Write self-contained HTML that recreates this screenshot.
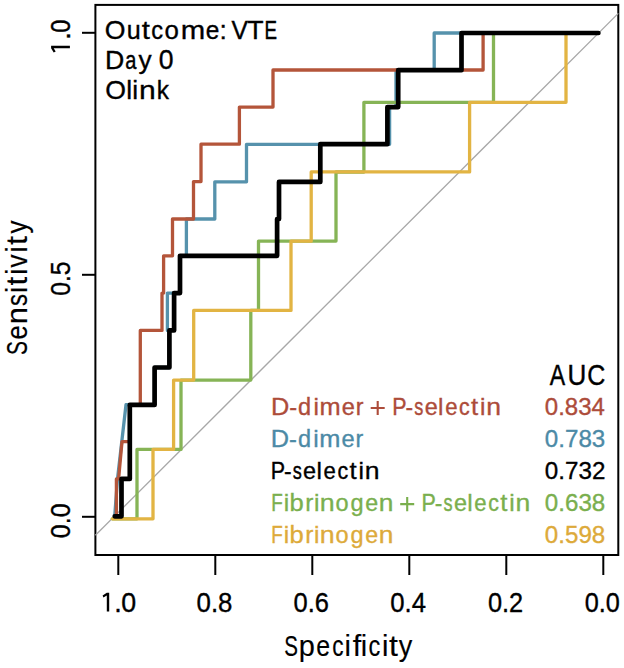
<!DOCTYPE html>
<html><head><meta charset="utf-8"><style>
html,body{margin:0;padding:0;background:#fff;width:624px;height:668px;overflow:hidden}
svg{display:block}
text{font-family:"Liberation Sans",sans-serif}
</style></head><body>
<svg width="624" height="668" viewBox="0 0 624 668" font-family="Liberation Sans, sans-serif">
<rect width="624" height="668" fill="#fff"/>
<g stroke="#000" stroke-width="2" fill="none">
<rect x="95.4" y="4.9" width="522.9" height="550.1"/>
<line x1="82" y1="32.8" x2="95.4" y2="32.8"/><line x1="82" y1="274.8" x2="95.4" y2="274.8"/><line x1="82" y1="516.8" x2="95.4" y2="516.8"/>
<line x1="118.3" y1="555" x2="118.3" y2="575"/><line x1="215.3" y1="555" x2="215.3" y2="575"/><line x1="312.3" y1="555" x2="312.3" y2="575"/><line x1="409.3" y1="555" x2="409.3" y2="575"/><line x1="506.3" y1="555" x2="506.3" y2="575"/><line x1="603.3" y1="555" x2="603.3" y2="575"/>
</g>
<line x1="95.4" y1="535.3" x2="618.3" y2="13.4" stroke="#a8a8a8" stroke-width="1.3"/>
<g fill="none" stroke-linejoin="round" stroke-linecap="round">
<path d="M114.7,516.3 L117.5,479.0 L126.0,404.7 L154.6,404.7 L154.6,367.5 L169.4,367.5 L169.4,330.4 L167.4,330.4 L167.4,293.1 L180.0,293.1 L180.0,255.8 L186.4,255.8 L186.4,219.0 L214.8,219.0 L214.8,181.8 L246.5,181.8 L246.5,144.3 L389.6,144.3 L389.6,107.1 L396.0,107.1 L396.0,70.0 L434.2,70.0 L434.2,33.0 L598.4,33.0" stroke="#5692AC" stroke-width="3.3"/>
<path d="M114.7,516.3 L116.4,516.3 L116.4,478.9 L118.6,478.9 L122.0,441.6 L129.8,441.6 L129.8,404.7 L140.3,404.7 L140.3,330.4 L162.0,330.4 L162.0,293.1 L163.6,293.1 L163.6,255.8 L172.5,255.8 L172.5,219.0 L193.5,219.0 L193.5,181.6 L201.0,181.6 L201.0,144.2 L239.4,144.2 L239.4,107.1 L273.0,107.1 L273.0,70.0 L483.1,70.0 L483.1,33.0 L598.4,33.0" stroke="#B4553A" stroke-width="3.3"/>
<path d="M112.3,518.8 L137.0,518.8 L137.0,449.4 L181.0,449.4 L181.0,380.1 L250.8,380.1 L250.8,310.4 L258.5,310.4 L258.5,241.1 L336.0,241.1 L336.0,172.0 L363.9,172.0 L363.9,102.3 L493.5,102.3 L493.5,33.0 L598.4,33.0" stroke="#86B456" stroke-width="3.3"/>
<path d="M112.3,518.8 L153.0,518.8 L153.0,449.4 L173.6,449.4 L173.6,380.1 L193.7,380.1 L193.7,310.4 L291.0,310.4 L291.0,241.2 L311.2,241.2 L311.2,171.9 L469.6,171.9 L469.6,102.3 L566.0,102.3 L566.0,33.0 L598.4,33.0" stroke="#E2B443" stroke-width="3.3"/>
<path d="M114.7,516.3 L121.5,516.3 L121.5,478.9 L129.8,478.9 L129.8,404.9 L154.6,404.9 L154.6,367.5 L169.4,367.5 L169.4,330.4 L174.1,330.4 L174.1,293.1 L180.0,293.1 L180.0,255.8 L277.1,255.8 L277.1,219.1 L279.0,219.1 L279.0,181.9 L320.3,181.9 L320.3,144.2 L387.4,144.2 L387.4,107.1 L398.2,107.1 L398.2,70.2 L461.5,70.2 L461.5,33.0 L598.4,33.0" stroke="#000" stroke-width="4.7"/>
</g>
<text transform="translate(104.85,39.30) scale(1.006,1)" font-size="26.5" fill="#000" stroke="#000" stroke-width="0.35">O</text>
<text transform="translate(126.86,39.30) scale(0.950,1)" font-size="26.5" fill="#000" stroke="#000" stroke-width="0.37">u</text>
<text transform="translate(141.76,39.30) scale(1.106,1)" font-size="26.5" fill="#000" stroke="#000" stroke-width="0.32">t</text>
<text transform="translate(151.31,39.30) scale(0.891,1)" font-size="26.5" fill="#000" stroke="#000" stroke-width="0.39">c</text>
<text transform="translate(164.41,39.30) scale(0.975,1)" font-size="26.5" fill="#000" stroke="#000" stroke-width="0.36">o</text>
<text transform="translate(180.76,39.30) scale(1.109,1)" font-size="26.5" fill="#000" stroke="#000" stroke-width="0.32">m</text>
<text transform="translate(205.67,39.30) scale(0.923,1)" font-size="26.5" fill="#000" stroke="#000" stroke-width="0.38">e</text>
<text transform="translate(219.42,39.30) scale(1.000,1)" font-size="26.5" fill="#000" stroke="#000" stroke-width="0.35">:</text>
<text transform="translate(231.38,39.30) scale(0.930,1)" font-size="26.5" fill="#000" stroke="#000" stroke-width="0.38">V</text>
<text transform="translate(247.31,39.30) scale(1.007,1)" font-size="26.5" fill="#000" stroke="#000" stroke-width="0.35">T</text>
<text transform="translate(264.46,39.30) scale(0.710,1)" font-size="26.5" fill="#000" stroke="#000" stroke-width="0.49">E</text>
<text transform="translate(105.11,68.90) scale(1.007,1)" font-size="26.5" fill="#000" stroke="#000" stroke-width="0.35">D</text>
<text transform="translate(125.26,68.90) scale(0.756,1)" font-size="26.5" fill="#000" stroke="#000" stroke-width="0.46">a</text>
<text transform="translate(138.52,68.90) scale(0.991,1)" font-size="26.5" fill="#000" stroke="#000" stroke-width="0.35">y</text>
<text transform="translate(158.86,69.10) scale(0.966,1)" font-size="27.5" fill="#000" stroke="#000" stroke-width="0.36">0</text>
<text transform="translate(105.15,98.70) scale(1.006,1)" font-size="26.5" fill="#000" stroke="#000" stroke-width="0.35">O</text>
<text transform="translate(126.16,98.70) scale(1.000,1)" font-size="26.5" fill="#000" stroke="#000" stroke-width="0.35">l</text>
<text transform="translate(132.36,98.70) scale(1.000,1)" font-size="26.5" fill="#000" stroke="#000" stroke-width="0.35">i</text>
<text transform="translate(138.91,98.70) scale(1.137,1)" font-size="26.5" fill="#000" stroke="#000" stroke-width="0.31">n</text>
<text transform="translate(156.66,98.70) scale(0.922,1)" font-size="26.5" fill="#000" stroke="#000" stroke-width="0.38">k</text>
<path d="M370.70,406.95h14.00v2.10h-14.00z M376.65,400.90h2.10v14.20h-2.10z" fill="#AD4C3A"/>
<path d="M400.20,503.10h14.00v2.10h-14.00z M406.15,497.05h2.10v14.20h-2.10z" fill="#7AAF4E"/>
<text transform="translate(271.02,414.50) scale(1.034,1)" font-size="24.5" fill="#AD4C3A" stroke="#AD4C3A" stroke-width="0.34">D</text>
<text transform="translate(289.26,414.50) scale(0.966,1)" font-size="24.5" fill="#AD4C3A" stroke="#AD4C3A" stroke-width="0.36">-</text>
<text transform="translate(298.11,414.50) scale(0.961,1)" font-size="24.5" fill="#AD4C3A" stroke="#AD4C3A" stroke-width="0.36">d</text>
<text transform="translate(313.53,414.50) scale(1.000,1)" font-size="24.5" fill="#AD4C3A" stroke="#AD4C3A" stroke-width="0.35">i</text>
<text transform="translate(319.42,414.50) scale(1.036,1)" font-size="24.5" fill="#AD4C3A" stroke="#AD4C3A" stroke-width="0.34">m</text>
<text transform="translate(341.71,414.50) scale(0.964,1)" font-size="24.5" fill="#AD4C3A" stroke="#AD4C3A" stroke-width="0.36">e</text>
<text transform="translate(355.67,414.50) scale(0.947,1)" font-size="24.5" fill="#AD4C3A" stroke="#AD4C3A" stroke-width="0.37">r</text>
<text transform="translate(392.34,414.50) scale(0.875,1)" font-size="24.5" fill="#AD4C3A" stroke="#AD4C3A" stroke-width="0.40">P</text>
<text transform="translate(405.49,414.50) scale(0.933,1)" font-size="24.5" fill="#AD4C3A" stroke="#AD4C3A" stroke-width="0.38">-</text>
<text transform="translate(414.29,414.50) scale(0.740,1)" font-size="24.5" fill="#AD4C3A" stroke="#AD4C3A" stroke-width="0.47">s</text>
<text transform="translate(424.72,414.50) scale(0.955,1)" font-size="24.5" fill="#AD4C3A" stroke="#AD4C3A" stroke-width="0.37">e</text>
<text transform="translate(437.98,414.50) scale(1.000,1)" font-size="24.5" fill="#AD4C3A" stroke="#AD4C3A" stroke-width="0.35">l</text>
<text transform="translate(445.17,414.50) scale(0.903,1)" font-size="24.5" fill="#AD4C3A" stroke="#AD4C3A" stroke-width="0.39">e</text>
<text transform="translate(459.01,414.50) scale(0.869,1)" font-size="24.5" fill="#AD4C3A" stroke="#AD4C3A" stroke-width="0.40">c</text>
<text transform="translate(471.11,414.50) scale(1.052,1)" font-size="24.5" fill="#AD4C3A" stroke="#AD4C3A" stroke-width="0.33">t</text>
<text transform="translate(480.03,414.50) scale(1.000,1)" font-size="24.5" fill="#AD4C3A" stroke="#AD4C3A" stroke-width="0.35">i</text>
<text transform="translate(486.25,414.50) scale(1.085,1)" font-size="24.5" fill="#AD4C3A" stroke="#AD4C3A" stroke-width="0.32">n</text>
<text x="544.86" y="414.50" font-size="24.5" textLength="60.04" lengthAdjust="spacingAndGlyphs" fill="#AD4C3A" stroke="#AD4C3A" stroke-width="0.35">0.834</text>
<text transform="translate(270.82,446.55) scale(1.034,1)" font-size="24.5" fill="#4C8AA6" stroke="#4C8AA6" stroke-width="0.34">D</text>
<text transform="translate(289.06,446.55) scale(0.966,1)" font-size="24.5" fill="#4C8AA6" stroke="#4C8AA6" stroke-width="0.36">-</text>
<text transform="translate(297.91,446.55) scale(0.961,1)" font-size="24.5" fill="#4C8AA6" stroke="#4C8AA6" stroke-width="0.36">d</text>
<text transform="translate(313.33,446.55) scale(1.000,1)" font-size="24.5" fill="#4C8AA6" stroke="#4C8AA6" stroke-width="0.35">i</text>
<text transform="translate(319.22,446.55) scale(1.036,1)" font-size="24.5" fill="#4C8AA6" stroke="#4C8AA6" stroke-width="0.34">m</text>
<text transform="translate(341.51,446.55) scale(0.964,1)" font-size="24.5" fill="#4C8AA6" stroke="#4C8AA6" stroke-width="0.36">e</text>
<text transform="translate(355.47,446.55) scale(0.947,1)" font-size="24.5" fill="#4C8AA6" stroke="#4C8AA6" stroke-width="0.37">r</text>
<text x="544.86" y="446.55" font-size="24.5" textLength="60.41" lengthAdjust="spacingAndGlyphs" fill="#4C8AA6" stroke="#4C8AA6" stroke-width="0.35">0.783</text>
<text transform="translate(270.74,478.60) scale(0.875,1)" font-size="24.5" fill="#000" stroke="#000" stroke-width="0.40">P</text>
<text transform="translate(283.89,478.60) scale(0.933,1)" font-size="24.5" fill="#000" stroke="#000" stroke-width="0.38">-</text>
<text transform="translate(292.69,478.60) scale(0.740,1)" font-size="24.5" fill="#000" stroke="#000" stroke-width="0.47">s</text>
<text transform="translate(303.12,478.60) scale(0.955,1)" font-size="24.5" fill="#000" stroke="#000" stroke-width="0.37">e</text>
<text transform="translate(316.38,478.60) scale(1.000,1)" font-size="24.5" fill="#000" stroke="#000" stroke-width="0.35">l</text>
<text transform="translate(323.57,478.60) scale(0.903,1)" font-size="24.5" fill="#000" stroke="#000" stroke-width="0.39">e</text>
<text transform="translate(337.41,478.60) scale(0.869,1)" font-size="24.5" fill="#000" stroke="#000" stroke-width="0.40">c</text>
<text transform="translate(349.51,478.60) scale(1.052,1)" font-size="24.5" fill="#000" stroke="#000" stroke-width="0.33">t</text>
<text transform="translate(358.43,478.60) scale(1.000,1)" font-size="24.5" fill="#000" stroke="#000" stroke-width="0.35">i</text>
<text transform="translate(364.65,478.60) scale(1.085,1)" font-size="24.5" fill="#000" stroke="#000" stroke-width="0.32">n</text>
<text x="544.86" y="478.60" font-size="24.5" textLength="60.56" lengthAdjust="spacingAndGlyphs" fill="#000" stroke="#000" stroke-width="0.35">0.732</text>
<text transform="translate(271.16,510.65) scale(0.768,1)" font-size="24.5" fill="#7AAF4E" stroke="#7AAF4E" stroke-width="0.46">F</text>
<text transform="translate(283.78,510.65) scale(1.000,1)" font-size="24.5" fill="#7AAF4E" stroke="#7AAF4E" stroke-width="0.35">i</text>
<text transform="translate(289.44,510.65) scale(1.045,1)" font-size="24.5" fill="#7AAF4E" stroke="#7AAF4E" stroke-width="0.33">b</text>
<text transform="translate(305.19,510.65) scale(0.996,1)" font-size="24.5" fill="#7AAF4E" stroke="#7AAF4E" stroke-width="0.35">r</text>
<text transform="translate(313.88,510.65) scale(1.000,1)" font-size="24.5" fill="#7AAF4E" stroke="#7AAF4E" stroke-width="0.35">i</text>
<text transform="translate(319.73,510.65) scale(1.095,1)" font-size="24.5" fill="#7AAF4E" stroke="#7AAF4E" stroke-width="0.32">n</text>
<text transform="translate(335.61,510.65) scale(0.960,1)" font-size="24.5" fill="#7AAF4E" stroke="#7AAF4E" stroke-width="0.36">o</text>
<text transform="translate(350.61,510.65) scale(0.961,1)" font-size="24.5" fill="#7AAF4E" stroke="#7AAF4E" stroke-width="0.36">g</text>
<text transform="translate(365.13,510.65) scale(0.947,1)" font-size="24.5" fill="#7AAF4E" stroke="#7AAF4E" stroke-width="0.37">e</text>
<text transform="translate(378.76,510.65) scale(1.076,1)" font-size="24.5" fill="#7AAF4E" stroke="#7AAF4E" stroke-width="0.33">n</text>
<text transform="translate(421.54,510.65) scale(0.875,1)" font-size="24.5" fill="#7AAF4E" stroke="#7AAF4E" stroke-width="0.40">P</text>
<text transform="translate(434.69,510.65) scale(0.933,1)" font-size="24.5" fill="#7AAF4E" stroke="#7AAF4E" stroke-width="0.38">-</text>
<text transform="translate(443.49,510.65) scale(0.740,1)" font-size="24.5" fill="#7AAF4E" stroke="#7AAF4E" stroke-width="0.47">s</text>
<text transform="translate(453.92,510.65) scale(0.955,1)" font-size="24.5" fill="#7AAF4E" stroke="#7AAF4E" stroke-width="0.37">e</text>
<text transform="translate(467.18,510.65) scale(1.000,1)" font-size="24.5" fill="#7AAF4E" stroke="#7AAF4E" stroke-width="0.35">l</text>
<text transform="translate(474.37,510.65) scale(0.903,1)" font-size="24.5" fill="#7AAF4E" stroke="#7AAF4E" stroke-width="0.39">e</text>
<text transform="translate(488.21,510.65) scale(0.869,1)" font-size="24.5" fill="#7AAF4E" stroke="#7AAF4E" stroke-width="0.40">c</text>
<text transform="translate(500.31,510.65) scale(1.052,1)" font-size="24.5" fill="#7AAF4E" stroke="#7AAF4E" stroke-width="0.33">t</text>
<text transform="translate(509.23,510.65) scale(1.000,1)" font-size="24.5" fill="#7AAF4E" stroke="#7AAF4E" stroke-width="0.35">i</text>
<text transform="translate(515.45,510.65) scale(1.085,1)" font-size="24.5" fill="#7AAF4E" stroke="#7AAF4E" stroke-width="0.32">n</text>
<text x="544.86" y="510.65" font-size="24.5" textLength="60.39" lengthAdjust="spacingAndGlyphs" fill="#7AAF4E" stroke="#7AAF4E" stroke-width="0.35">0.638</text>
<text transform="translate(271.16,542.70) scale(0.768,1)" font-size="24.5" fill="#DDAA3A" stroke="#DDAA3A" stroke-width="0.46">F</text>
<text transform="translate(283.78,542.70) scale(1.000,1)" font-size="24.5" fill="#DDAA3A" stroke="#DDAA3A" stroke-width="0.35">i</text>
<text transform="translate(289.44,542.70) scale(1.045,1)" font-size="24.5" fill="#DDAA3A" stroke="#DDAA3A" stroke-width="0.33">b</text>
<text transform="translate(305.19,542.70) scale(0.996,1)" font-size="24.5" fill="#DDAA3A" stroke="#DDAA3A" stroke-width="0.35">r</text>
<text transform="translate(313.88,542.70) scale(1.000,1)" font-size="24.5" fill="#DDAA3A" stroke="#DDAA3A" stroke-width="0.35">i</text>
<text transform="translate(319.73,542.70) scale(1.095,1)" font-size="24.5" fill="#DDAA3A" stroke="#DDAA3A" stroke-width="0.32">n</text>
<text transform="translate(335.61,542.70) scale(0.960,1)" font-size="24.5" fill="#DDAA3A" stroke="#DDAA3A" stroke-width="0.36">o</text>
<text transform="translate(350.61,542.70) scale(0.961,1)" font-size="24.5" fill="#DDAA3A" stroke="#DDAA3A" stroke-width="0.36">g</text>
<text transform="translate(365.13,542.70) scale(0.947,1)" font-size="24.5" fill="#DDAA3A" stroke="#DDAA3A" stroke-width="0.37">e</text>
<text transform="translate(378.76,542.70) scale(1.076,1)" font-size="24.5" fill="#DDAA3A" stroke="#DDAA3A" stroke-width="0.33">n</text>
<text x="544.86" y="542.70" font-size="24.5" textLength="60.39" lengthAdjust="spacingAndGlyphs" fill="#DDAA3A" stroke="#DDAA3A" stroke-width="0.35">0.598</text>
<text transform="translate(549.85,385.30) scale(0.801,1)" font-size="28.8" fill="#000" stroke="#000" stroke-width="0.44">A</text>
<text transform="translate(567.39,385.30) scale(0.905,1)" font-size="28.8" fill="#000" stroke="#000" stroke-width="0.39">U</text>
<text transform="translate(587.13,385.30) scale(0.867,1)" font-size="28.8" fill="#000" stroke="#000" stroke-width="0.40">C</text>
<text x="196.59" y="611.50" font-size="27" textLength="35.92" lengthAdjust="spacingAndGlyphs" fill="#000" stroke="#000" stroke-width="0.35">0.8</text>
<text x="293.51" y="611.50" font-size="27" textLength="35.42" lengthAdjust="spacingAndGlyphs" fill="#000" stroke="#000" stroke-width="0.35">0.6</text>
<text x="390.20" y="611.50" font-size="27" textLength="35.75" lengthAdjust="spacingAndGlyphs" fill="#000" stroke="#000" stroke-width="0.35">0.4</text>
<text x="487.91" y="611.50" font-size="27" textLength="35.26" lengthAdjust="spacingAndGlyphs" fill="#000" stroke="#000" stroke-width="0.35">0.2</text>
<text x="584.71" y="611.50" font-size="27" textLength="35.18" lengthAdjust="spacingAndGlyphs" fill="#000" stroke="#000" stroke-width="0.35">0.0</text>
<text transform="translate(114.35,611.50) scale(1.000,1)" font-size="27" fill="#000" stroke="#000" stroke-width="0.35">.</text>
<text transform="translate(121.26,611.50) scale(0.992,1)" font-size="27" fill="#000" stroke="#000" stroke-width="0.35">0</text>
<path d="M-1.2,-18.8 L1.2,-18.8 L1.2,0 L-1.2,0 L-1.2,-16.2 L-4.6,-14.2 L-5.4,-16.2 Z" transform="translate(108.0,611.6)" fill="#000"/>
<text transform="translate(69.90,295.77) rotate(-90)" font-size="27" textLength="34.41" lengthAdjust="spacingAndGlyphs" fill="#000" stroke="#000" stroke-width="0.35">0.5</text>
<text transform="translate(69.90,538.18) rotate(-90)" font-size="27" textLength="34.86" lengthAdjust="spacingAndGlyphs" fill="#000" stroke="#000" stroke-width="0.35">0.0</text>
<text transform="translate(69.90,39.75) rotate(-90) scale(1.000,1)" font-size="27" fill="#000" stroke="#000" stroke-width="0.35">.</text>
<text transform="translate(69.90,32.82) rotate(-90) scale(0.876,1)" font-size="27" fill="#000" stroke="#000" stroke-width="0.40">0</text>
<path d="M-1.2,-18.8 L1.2,-18.8 L1.2,0 L-1.2,0 L-1.2,-16.2 L-4.6,-14.2 L-5.4,-16.2 Z" transform="translate(69.9,47.0) rotate(-90)" fill="#000"/>
<text transform="translate(284.16,656.00) scale(0.708,1)" font-size="29" fill="#000" stroke="#000" stroke-width="0.21">S</text>
<text transform="translate(298.82,656.00) scale(0.998,1)" font-size="29" fill="#000" stroke="#000" stroke-width="0.15">p</text>
<text transform="translate(316.15,656.00) scale(0.858,1)" font-size="29" fill="#000" stroke="#000" stroke-width="0.17">e</text>
<text transform="translate(332.15,656.00) scale(0.782,1)" font-size="29" fill="#000" stroke="#000" stroke-width="0.19">c</text>
<text transform="translate(344.58,656.00) scale(1.000,1)" font-size="29" fill="#000" stroke="#000" stroke-width="0.15">i</text>
<text transform="translate(352.67,656.00) scale(1.054,1)" font-size="29" fill="#000" stroke="#000" stroke-width="0.14">f</text>
<text transform="translate(360.68,656.00) scale(1.000,1)" font-size="29" fill="#000" stroke="#000" stroke-width="0.15">i</text>
<text transform="translate(368.51,656.00) scale(0.814,1)" font-size="29" fill="#000" stroke="#000" stroke-width="0.18">c</text>
<text transform="translate(381.98,656.00) scale(1.000,1)" font-size="29" fill="#000" stroke="#000" stroke-width="0.15">i</text>
<text transform="translate(389.02,656.00) scale(1.105,1)" font-size="29" fill="#000" stroke="#000" stroke-width="0.14">t</text>
<text transform="translate(398.72,656.00) scale(0.933,1)" font-size="29" fill="#000" stroke="#000" stroke-width="0.16">y</text>
<text transform="translate(27.00,355.06) rotate(-90) scale(0.707,1)" font-size="29.5" fill="#000" stroke="#000" stroke-width="0.21">S</text>
<text transform="translate(27.00,339.47) rotate(-90) scale(0.865,1)" font-size="29.5" fill="#000" stroke="#000" stroke-width="0.17">e</text>
<text transform="translate(27.00,324.23) rotate(-90) scale(1.045,1)" font-size="29.5" fill="#000" stroke="#000" stroke-width="0.14">n</text>
<text transform="translate(27.00,306.07) rotate(-90) scale(0.809,1)" font-size="29.5" fill="#000" stroke="#000" stroke-width="0.19">s</text>
<text transform="translate(27.00,293.32) rotate(-90) scale(1.000,1)" font-size="29.5" fill="#000" stroke="#000" stroke-width="0.15">i</text>
<text transform="translate(27.00,285.47) rotate(-90) scale(1.059,1)" font-size="29.5" fill="#000" stroke="#000" stroke-width="0.14">t</text>
<text transform="translate(27.00,275.02) rotate(-90) scale(1.000,1)" font-size="29.5" fill="#000" stroke="#000" stroke-width="0.15">i</text>
<text transform="translate(27.00,267.40) rotate(-90) scale(0.889,1)" font-size="29.5" fill="#000" stroke="#000" stroke-width="0.17">v</text>
<text transform="translate(27.00,252.82) rotate(-90) scale(1.000,1)" font-size="29.5" fill="#000" stroke="#000" stroke-width="0.15">i</text>
<text transform="translate(27.00,244.88) rotate(-90) scale(1.086,1)" font-size="29.5" fill="#000" stroke="#000" stroke-width="0.14">t</text>
<text transform="translate(27.00,233.38) rotate(-90) scale(0.883,1)" font-size="29.5" fill="#000" stroke="#000" stroke-width="0.17">y</text>
</svg>
</body></html>
